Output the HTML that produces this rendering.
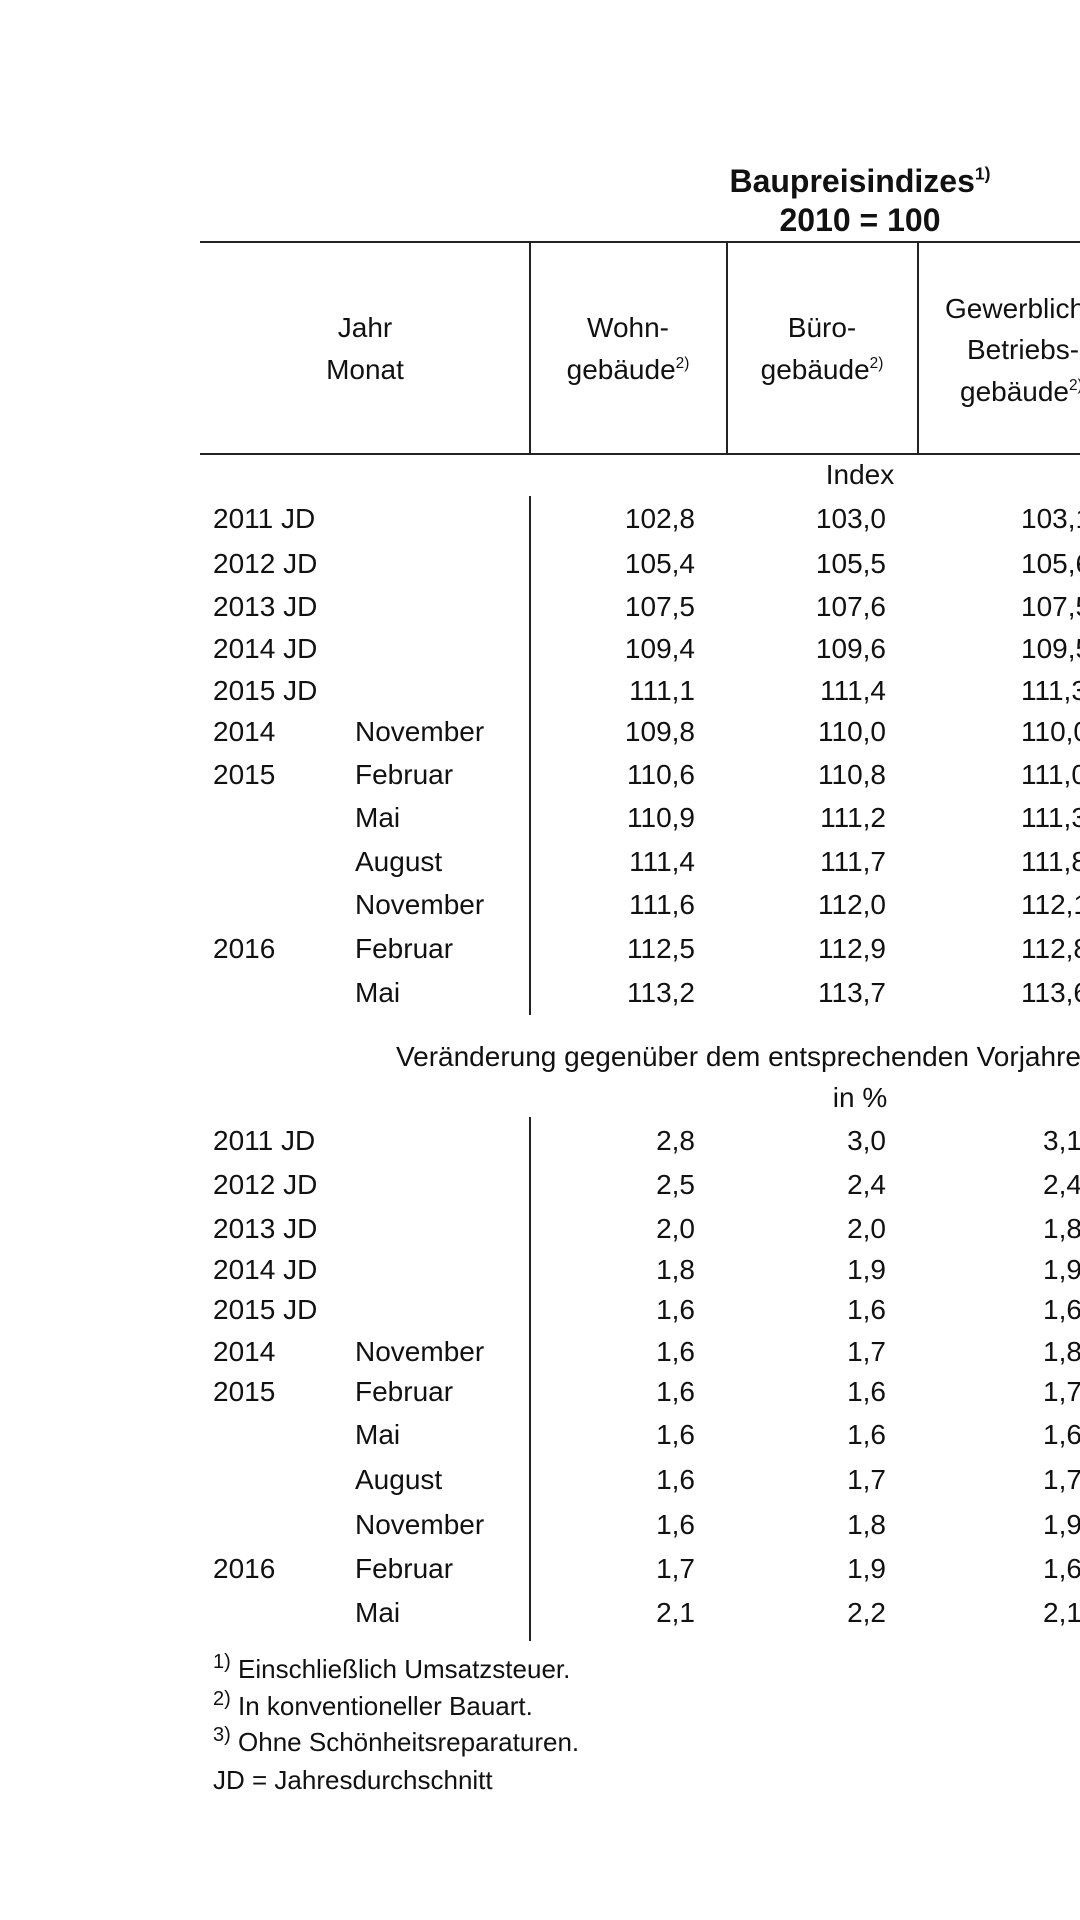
<!DOCTYPE html>
<html style="overflow:hidden;width:1080px;height:1920px;"><head><meta charset="utf-8"><style>
html,body{margin:0;padding:0;background:#fff;}
body{width:1080px;height:1920px;position:relative;overflow:hidden;font-family:"Liberation Sans",sans-serif;color:#111;}
#wrap{position:absolute;left:0;top:0;width:1080px;height:1920px;overflow:hidden;}
.t{position:absolute;font-size:28px;line-height:34px;white-space:nowrap;}
.r{text-align:right;}
.c{text-align:center;}
.hl{position:absolute;height:2px;background:#222;}
.vl{position:absolute;width:2px;background:#222;}
sup{font-size:0.55em;vertical-align:0.7em;line-height:0;}
.f{position:absolute;font-size:26px;line-height:30px;white-space:nowrap;left:213px;}
.f sup{font-size:20px;vertical-align:0.5em;}
</style></head><body><div id="wrap">
<div class="t c" style="left:650px;width:420px;top:164px;font-size:32px;font-weight:bold;">Baupreisindizes<sup>1)</sup></div>
<div class="t c" style="left:650px;width:420px;top:203px;font-size:32px;font-weight:bold;">2010 = 100</div>
<div class="hl" style="left:200px;right:0;top:241px;"></div>
<div class="hl" style="left:200px;right:0;top:453px;"></div>
<div class="vl" style="left:529px;top:242px;height:212px;"></div>
<div class="vl" style="left:726px;top:242px;height:212px;"></div>
<div class="vl" style="left:917px;top:242px;height:212px;"></div>
<div class="t c" style="left:270px;width:190px;top:311px;">Jahr</div>
<div class="t c" style="left:270px;width:190px;top:353px;">Monat</div>
<div class="t c" style="left:530px;width:196px;top:311px;">Wohn-</div>
<div class="t c" style="left:530px;width:196px;top:353px;">gebäude<sup>2)</sup></div>
<div class="t c" style="left:727px;width:190px;top:311px;">Büro-</div>
<div class="t c" style="left:727px;width:190px;top:353px;">gebäude<sup>2)</sup></div>
<div class="t" style="left:945px;top:292px;">Gewerbliche</div>
<div class="t" style="left:967px;top:333px;">Betriebs-</div>
<div class="t" style="left:960px;top:375px;">gebäude<sup>2)</sup></div>
<div class="t c" style="left:760px;width:200px;top:458px;">Index</div>
<div class="vl" style="left:529px;top:496px;height:519px;"></div>
<div class="t" style="left:396px;top:1040px;">Veränderung gegenüber dem entsprechenden Vorjahreszeitraum</div>
<div class="t c" style="left:760px;width:200px;top:1081px;">in %</div>
<div class="vl" style="left:529px;top:1117px;height:524px;"></div>
<div id="rows"></div>
<div class="f" style="top:1654px;"><sup>1)</sup> Einschließlich Umsatzsteuer.</div>
<div class="f" style="top:1691px;"><sup>2)</sup> In konventioneller Bauart.</div>
<div class="f" style="top:1727px;"><sup>3)</sup> Ohne Schönheitsreparaturen.</div>
<div class="f" style="top:1765px;">JD = Jahresdurchschnitt</div>
</div>
<script>
var lab=[["2011 JD",""],["2012 JD",""],["2013 JD",""],["2014 JD",""],["2015 JD",""],["2014","November"],["2015","Februar"],["","Mai"],["","August"],["","November"],["2016","Februar"],["","Mai"]];
var a=[["102,8","103,0","103,1"],["105,4","105,5","105,6"],["107,5","107,6","107,5"],["109,4","109,6","109,5"],["111,1","111,4","111,3"],["109,8","110,0","110,0"],["110,6","110,8","111,0"],["110,9","111,2","111,3"],["111,4","111,7","111,8"],["111,6","112,0","112,1"],["112,5","112,9","112,8"],["113,2","113,7","113,6"]];
var b=[["2,8","3,0","3,1"],["2,5","2,4","2,4"],["2,0","2,0","1,8"],["1,8","1,9","1,9"],["1,6","1,6","1,6"],["1,6","1,7","1,8"],["1,6","1,6","1,7"],["1,6","1,6","1,6"],["1,6","1,7","1,7"],["1,6","1,8","1,9"],["1,7","1,9","1,6"],["2,1","2,2","2,1"]];
var y1=[424,461,496,530,564,598,633,668,704,739,775,811],y2=[932,968,1004,1037,1070,1104,1137,1172,1209,1245,1281,1317];
var h="";
function blk(ys,d){for(var i=0;i<12;i++){var y=Math.round(ys[i]*1.2245)-17;
h+='<div class="t" style="left:213px;top:'+y+'px">'+lab[i][0]+'</div>';
h+='<div class="t" style="left:355px;top:'+y+'px">'+lab[i][1]+'</div>';
h+='<div class="t r" style="left:560px;width:135px;top:'+y+'px">'+d[i][0]+'</div>';
h+='<div class="t r" style="left:750px;width:136px;top:'+y+'px">'+d[i][1]+'</div>';
var x=d[i][2].length>3?1021:1043;
h+='<div class="t" style="left:'+x+'px;top:'+y+'px">'+d[i][2]+'</div>';}}
blk(y1,a);blk(y2,b);
document.getElementById("rows").innerHTML=h;
</script>
</body></html>
